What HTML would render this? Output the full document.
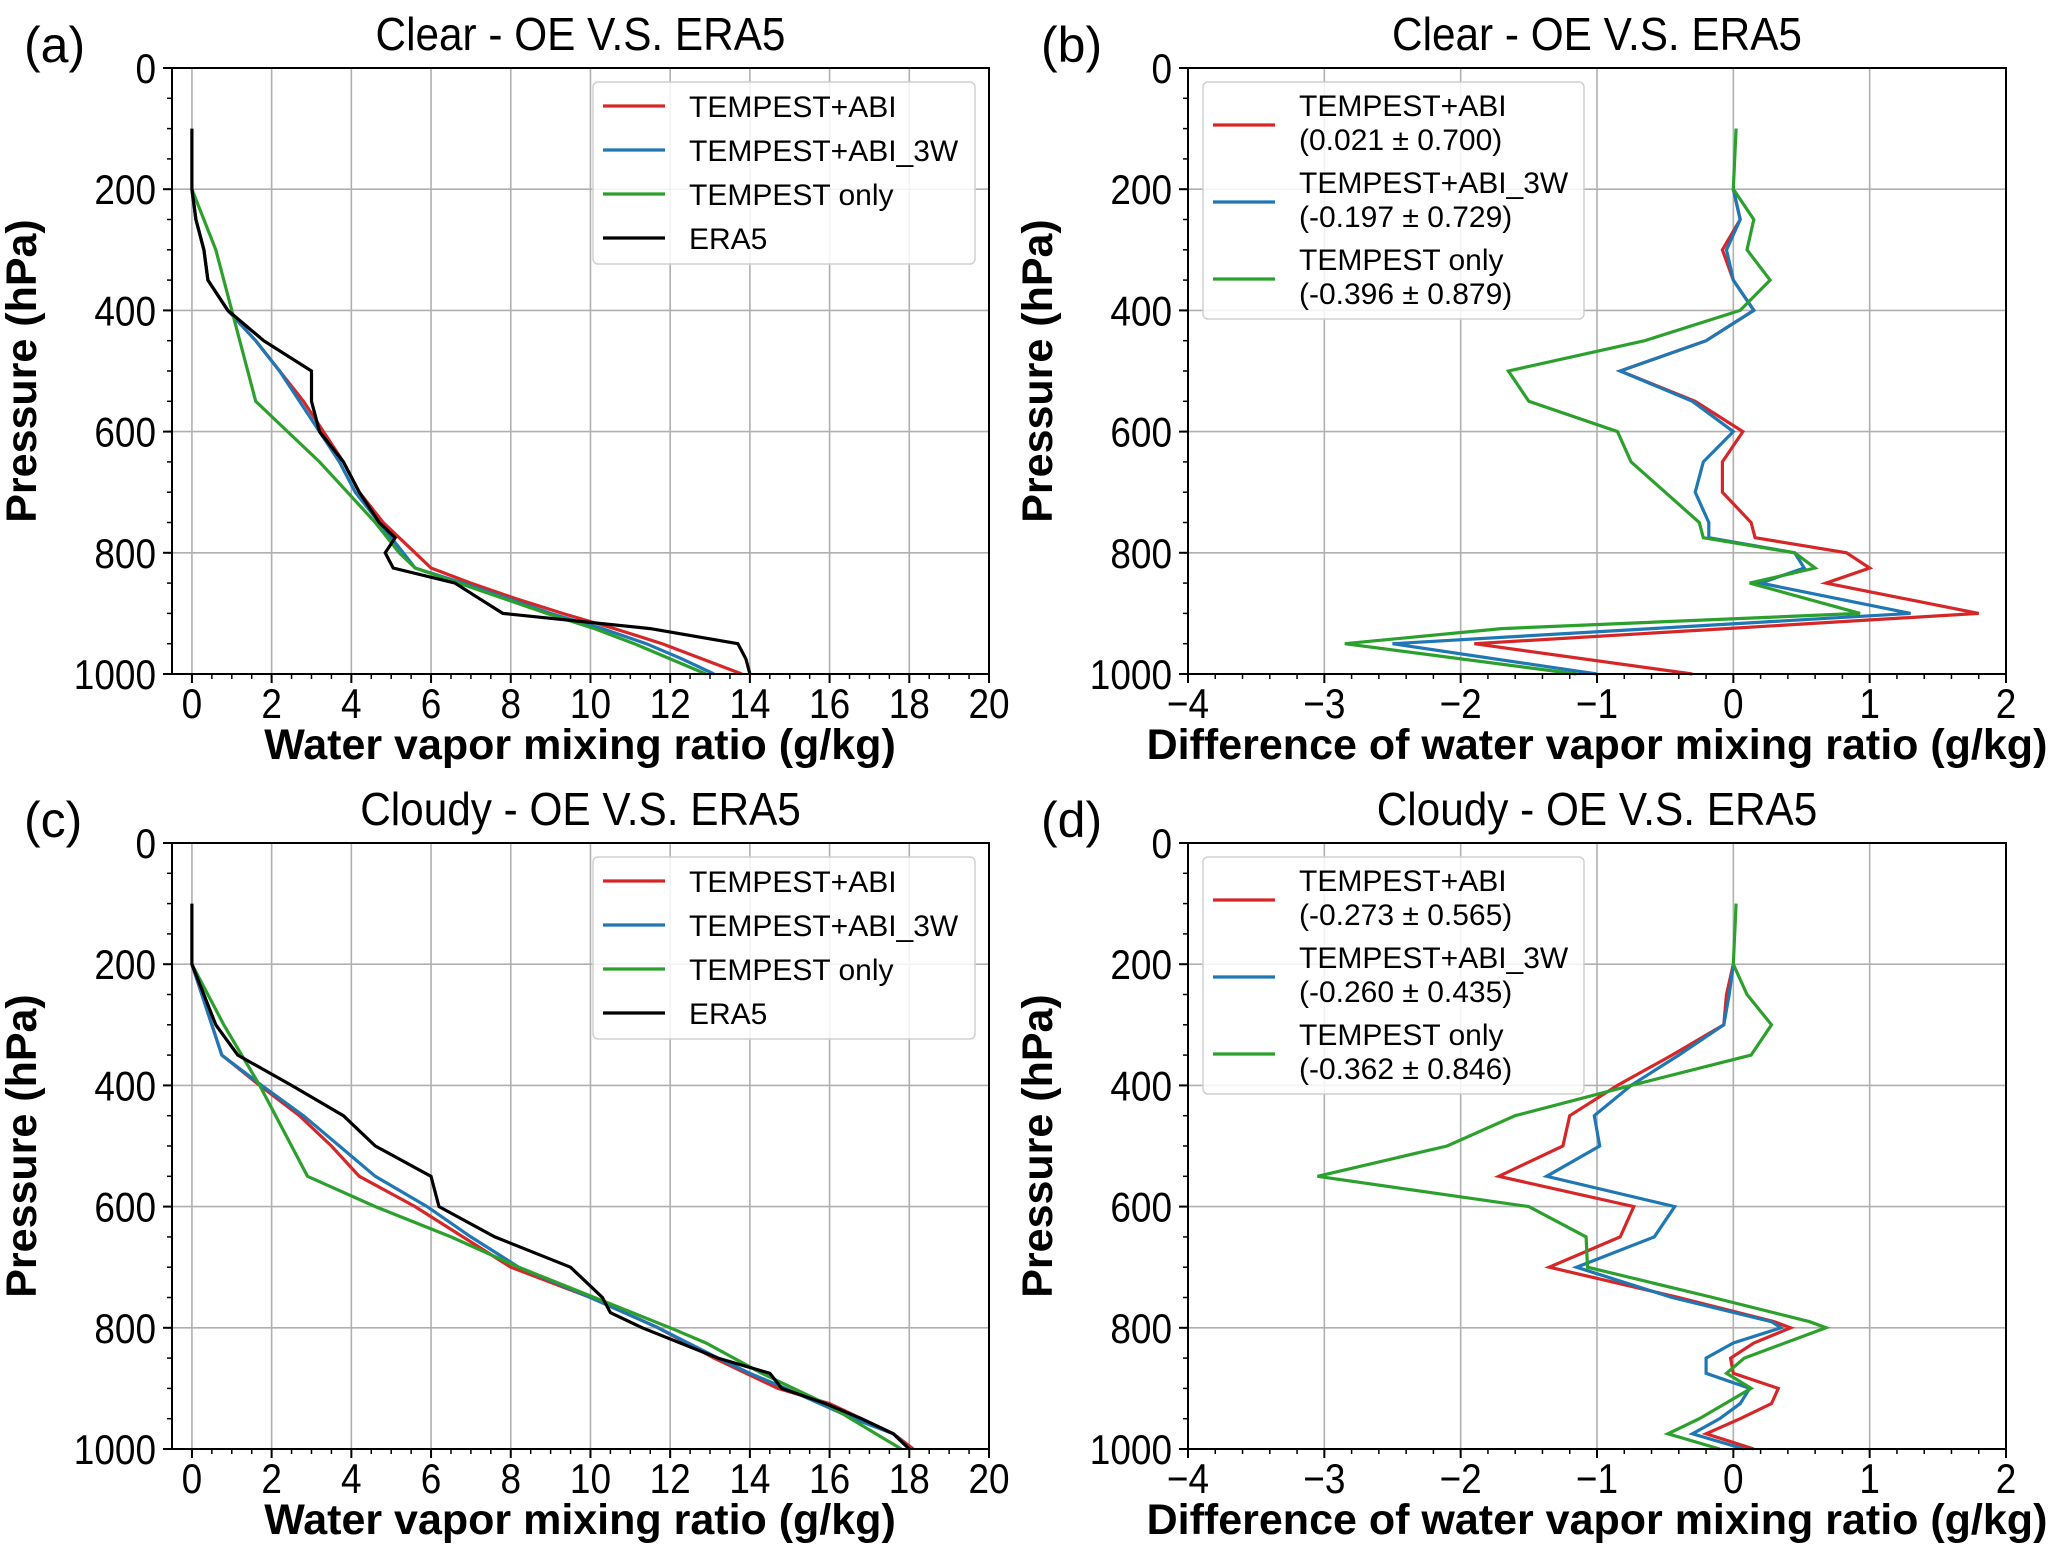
<!DOCTYPE html>
<html><head><meta charset="utf-8">
<style>
html,body{margin:0;padding:0;background:#fff;}
svg{display:block;font-family:"Liberation Sans","DejaVu Sans",sans-serif;}
</style></head>
<body>
<svg id="fig" width="2067" height="1558" viewBox="0 0 2067 1558" xmlns="http://www.w3.org/2000/svg"></svg>
<script>
// ---------- data ----------
const aEraP = [100,200,250,300,350,400,450,500,550,600,650,700,750,775,800,825,850,875,900,925,950,975,1000];
const aEraV = [0,0,0.1,0.3,0.4,0.9,1.8,3.0,3.0,3.2,3.8,4.2,4.7,5.1,4.85,5.05,6.6,7.2,7.8,11.5,13.7,13.9,14.0];
const aRedP = [200,250,300,350,400,450,500,550,600,650,700,750,775,800,825,850,875,900,925,950,975,1000];
const aRedV = [0,0.1,0.3,0.4,0.9,1.6,2.2,2.8,3.3,3.8,4.2,4.8,5.2,5.6,6.0,7.0,8.1,9.3,10.6,11.8,12.8,13.8];
const aBlueP = [200,250,300,350,400,450,500,550,600,650,700,750,800,825,850,875,900,925,950,975,1000];
const aBlueV = [0,0.1,0.3,0.4,0.9,1.6,2.2,2.7,3.2,3.7,4.1,4.7,5.3,5.6,6.8,7.9,9.0,10.3,11.4,12.3,13.1];
const aGreenP = [200,300,400,550,600,650,700,750,800,825,850,875,900,925,950,975,1000];
const aGreenV = [0,0.6,1.0,1.6,2.4,3.2,3.9,4.6,5.2,5.6,6.7,7.8,8.9,10.1,11.1,12.0,12.9];
const bRedP = [200,250,300,350,400,450,500,550,600,650,700,750,775,800,825,850,900,925,950,1000];
const bRedV = [0,0.05,-0.08,0,0.15,-0.2,-0.83,-0.28,0.07,-0.08,-0.08,0.13,0.16,0.83,1.0,0.68,1.8,-0.05,-1.9,-0.3];
const bBlueP = [200,250,300,350,400,450,500,550,600,650,700,750,775,800,825,850,900,925,950,1000];
const bBlueV = [0,0.05,-0.05,0,0.15,-0.2,-0.83,-0.3,0,-0.22,-0.28,-0.18,-0.18,0.45,0.52,0.2,1.3,-0.6,-2.5,-1.0];
const bGreenP = [100,200,250,300,350,400,450,500,550,600,650,700,750,775,800,825,850,900,925,950,1000];
const bGreenV = [0.02,0,0.15,0.1,0.27,0.05,-0.65,-1.65,-1.5,-0.85,-0.75,-0.5,-0.25,-0.22,0.45,0.6,0.12,0.93,-1.7,-2.85,-1.15];
const cEraP = [100,200,300,350,400,450,500,550,600,650,700,750,775,800,850,875,900,925,950,975,1000];
const cEraV = [0,0,0.6,1.15,2.5,3.8,4.6,6.0,6.2,7.6,9.5,10.3,10.5,11.3,13.2,14.5,14.8,15.9,16.8,17.6,18.0];
const cRedP = [200,350,400,450,500,550,600,650,700,750,800,850,900,925,975,1000];
const cRedV = [0,0.75,1.7,2.7,3.5,4.2,5.6,6.8,8.0,10.0,11.7,13.1,14.7,16.0,17.6,18.1];
const cBlueP = [200,350,400,450,500,550,600,650,700,750,800,850,875,900,950,975,1000];
const cBlueV = [0,0.75,1.75,2.8,3.7,4.6,5.9,7.0,8.2,10.0,11.7,13.2,14.0,14.9,16.6,17.6,18.0];
const cGreenP = [200,300,400,550,600,650,700,750,800,825,875,925,1000];
const cGreenV = [0,0.8,1.7,2.9,4.6,6.5,8.2,10.1,12.0,12.9,14.3,15.9,17.8];
const dRedP = [200,250,300,350,400,450,500,550,600,650,700,750,790,800,825,850,875,900,925,950,975,1000];
const dRedV = [0,-0.05,-0.07,-0.45,-0.85,-1.2,-1.25,-1.72,-0.73,-0.83,-1.35,-0.4,0.3,0.42,0.15,-0.02,0,0.33,0.28,0.05,-0.2,0.15];
const dBlueP = [200,250,300,350,400,450,500,550,600,650,700,750,790,800,825,850,875,900,925,950,975,1000];
const dBlueV = [0,-0.03,-0.07,-0.4,-0.75,-1.02,-0.98,-1.37,-0.43,-0.58,-1.15,-0.45,0.28,0.35,0,-0.2,-0.2,0.12,0.05,-0.1,-0.3,0.08];
const dGreenP = [100,200,250,300,350,400,450,500,550,600,650,700,750,790,800,850,875,900,950,975,1000];
const dGreenV = [0.02,0,0.1,0.28,0.13,-0.75,-1.6,-2.1,-3.05,-1.5,-1.08,-1.07,-0.15,0.56,0.68,0.08,-0.05,0.13,-0.25,-0.48,-0.1];
const absTicks = [0,2,4,6,8,10,12,14,16,18,20];
const diffTicks = [-4,-3,-2,-1,0,1,2];
const diffTickLabels = ["\u22124","\u22123","\u22122","\u22121","0","1","2"];
const pTicks = [0,200,400,600,800,1000];
const legendA = ["TEMPEST+ABI","TEMPEST+ABI_3W","TEMPEST only","ERA5"];
const legendB = [["TEMPEST+ABI","(0.021 \u00b1 0.700)"],["TEMPEST+ABI_3W","(-0.197 \u00b1 0.729)"],["TEMPEST only","(-0.396 \u00b1 0.879)"]];
const legendD = [["TEMPEST+ABI","(-0.273 \u00b1 0.565)"],["TEMPEST+ABI_3W","(-0.260 \u00b1 0.435)"],["TEMPEST only","(-0.362 \u00b1 0.846)"]];

const RED="#d62728",BLUE="#1f77b4",GREEN="#2ca02c",BLACK="#000000";
const NS="http://www.w3.org/2000/svg";
const svg=document.getElementById('fig');
function mk(tag,attrs,parent){const e=document.createElementNS(NS,tag);for(const k in attrs)e.setAttribute(k,attrs[k]);(parent||svg).appendChild(e);return e;}
function txt(s,attrs,parent){const e=mk('text',attrs,parent);e.textContent=s;return e;}

function panel(cfg){
  const g=mk('g',{});
  
  
  const L=cfg.L,R=cfg.R,T=cfg.T,B=cfg.B;
  const xs=v=>L+(v-cfg.x0)/(cfg.x1-cfg.x0)*(R-L);
  const ys=p=>T+p/1000*(B-T);
  const grid=mk('g',{},g);
  
  
  cfg.xt.forEach(v=>mk('line',{x1:xs(v),x2:xs(v),y1:T,y2:B,stroke:'#b0b0b0','stroke-width':1.6},grid));
  pTicks.forEach(p=>mk('line',{x1:L,x2:R,y1:ys(p),y2:ys(p),stroke:'#b0b0b0','stroke-width':1.6},grid));
  cfg.series.forEach(s=>{
    const pts=s.v.map((v,i)=>xs(v).toFixed(1)+','+ys(s.p[i]).toFixed(1)).join(' ');
    const pl=mk('polyline',{points:pts,fill:'none',stroke:s.c,'stroke-width':3.2,'stroke-linejoin':'miter'},g);
    
    
  });
  mk('rect',{x:L,y:T,width:R-L,height:B-T,fill:'none',stroke:'#000','stroke-width':2},g);
  const xa=mk('g',{},g);
  
  
  for(let v=cfg.x0min;v<=cfg.x1+1e-9;v+=cfg.minor){mk('line',{x1:xs(v),x2:xs(v),y1:B,y2:B+5,stroke:'#000','stroke-width':1.5},xa);}
  cfg.xt.forEach((v,i)=>{
    mk('line',{x1:xs(v),x2:xs(v),y1:B,y2:B+9,stroke:'#000','stroke-width':2},xa);
    txt(cfg.xl[i],{x:xs(v),y:B+44,'font-size':42,'text-anchor':'middle',transform:`translate(${xs(v)},0) scale(0.88,1) translate(${-xs(v)},0)`},xa);
  });
  const xt=txt(cfg.xlabel,{x:(cfg.xlabX),y:B+85,'font-size':43,'font-weight':'bold','text-anchor':'middle'},g);
  
  
  const ya=mk('g',{},g);
  
  
  for(let p=0;p<=1000;p+=50){mk('line',{x1:L-5,x2:L,y1:ys(p),y2:ys(p),stroke:'#000','stroke-width':1.5},ya);}
  pTicks.forEach(p=>{
    mk('line',{x1:L-9,x2:L,y1:ys(p),y2:ys(p),stroke:'#000','stroke-width':2},ya);
    const tx=L-16;
    txt(String(p),{x:tx,y:ys(p)+15,'font-size':42,'text-anchor':'end',transform:`translate(${tx},0) scale(0.88,1) translate(${-tx},0)`},ya);
  });
  const yt=txt('Pressure (hPa)',{x:0,y:0,'font-size':43,'font-weight':'bold','text-anchor':'middle',transform:`translate(${cfg.ylabX},${(T+B)/2}) rotate(-90)`},g);
  
  
  const cx=(L+R)/2;
  const tt=txt(cfg.title,{x:cx,y:T-18,'font-size':46,'text-anchor':'middle',transform:`translate(${cx},0) scale(0.92,1) translate(${-cx},0)`},g);
  
  
  const tg=txt(cfg.tag,{x:cfg.tagX,y:T-6,'font-size':50},g);
  
  
  const lg=mk('g',{},g);
  
  
  const lb=cfg.legBox;
  mk('rect',{x:lb[0],y:T+lb[1],width:lb[2],height:lb[3],rx:5,fill:'#fff','fill-opacity':0.85,stroke:'#d0d0d0','stroke-width':1.5},lg);
  cfg.legend.forEach((e,i)=>{
    const le=mk('g',{},lg);
    
    
    mk('line',{x1:e.x,x2:e.x+62,y1:T+e.y,y2:T+e.y,stroke:e.c,'stroke-width':3.2},le);
    e.lines.forEach((s,j)=>txt(s,{x:e.x+86,y:T+e.ty+j*34,'font-size':30},le));
  });
}

panel({name:'panel-a-clear',L:172,R:989,T:68,B:674,x0:-0.5,x1:20,x0min:0,minor:0.5,xt:absTicks,xl:absTicks.map(String),
  xlabel:'Water vapor mixing ratio (g/kg)',xlabX:580,ylabX:36,title:'Clear - OE V.S. ERA5',tag:'(a)',tagX:24,
  series:[{n:'line-tempest-abi',c:RED,p:aRedP,v:aRedV},{n:'line-tempest-abi-3w',c:BLUE,p:aBlueP,v:aBlueV},{n:'line-tempest-only',c:GREEN,p:aGreenP,v:aGreenV},{n:'line-era5',c:BLACK,p:aEraP,v:aEraV}],
  legBox:[593,14,382,182],
  legend:legendA.map((s,i)=>({x:603,y:38+i*44,ty:49+i*44,c:[RED,BLUE,GREEN,BLACK][i],lines:[s]}))});
panel({name:'panel-b-clear-diff',L:1188,R:2006,T:68,B:674,x0:-4,x1:2,x0min:-4,minor:0.2,xt:diffTicks,xl:diffTickLabels,
  xlabel:'Difference of water vapor mixing ratio (g/kg)',xlabX:1597,ylabX:1052,title:'Clear - OE V.S. ERA5',tag:'(b)',tagX:1041,
  series:[{n:'line-tempest-abi-diff',c:RED,p:bRedP,v:bRedV},{n:'line-tempest-abi-3w-diff',c:BLUE,p:bBlueP,v:bBlueV},{n:'line-tempest-only-diff',c:GREEN,p:bGreenP,v:bGreenV}],
  legBox:[1203,14,381,237],
  legend:legendB.map((s,i)=>({x:1213,y:57+i*77,ty:48+i*77,c:[RED,BLUE,GREEN][i],lines:s}))});
panel({name:'panel-c-cloudy',L:172,R:989,T:843,B:1449,x0:-0.5,x1:20,x0min:0,minor:0.5,xt:absTicks,xl:absTicks.map(String),
  xlabel:'Water vapor mixing ratio (g/kg)',xlabX:580,ylabX:36,title:'Cloudy - OE V.S. ERA5',tag:'(c)',tagX:24,
  series:[{n:'line-tempest-abi',c:RED,p:cRedP,v:cRedV},{n:'line-tempest-abi-3w',c:BLUE,p:cBlueP,v:cBlueV},{n:'line-tempest-only',c:GREEN,p:cGreenP,v:cGreenV},{n:'line-era5',c:BLACK,p:cEraP,v:cEraV}],
  legBox:[593,14,382,182],
  legend:legendA.map((s,i)=>({x:603,y:38+i*44,ty:49+i*44,c:[RED,BLUE,GREEN,BLACK][i],lines:[s]}))});
panel({name:'panel-d-cloudy-diff',L:1188,R:2006,T:843,B:1449,x0:-4,x1:2,x0min:-4,minor:0.2,xt:diffTicks,xl:diffTickLabels,
  xlabel:'Difference of water vapor mixing ratio (g/kg)',xlabX:1597,ylabX:1052,title:'Cloudy - OE V.S. ERA5',tag:'(d)',tagX:1041,
  series:[{n:'line-tempest-abi-diff',c:RED,p:dRedP,v:dRedV},{n:'line-tempest-abi-3w-diff',c:BLUE,p:dBlueP,v:dBlueV},{n:'line-tempest-only-diff',c:GREEN,p:dGreenP,v:dGreenV}],
  legBox:[1203,14,381,237],
  legend:legendD.map((s,i)=>({x:1213,y:57+i*77,ty:48+i*77,c:[RED,BLUE,GREEN][i],lines:s}))});
</script>
</body></html>
